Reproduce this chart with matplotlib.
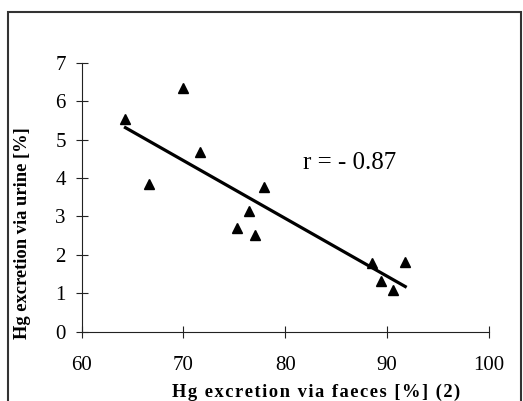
import numpy as np
import matplotlib.pyplot as plt
from matplotlib.patches import Rectangle

plt.rcParams["font.family"] = ["Liberation Serif", "DejaVu Serif"]

# data
faeces = [64.3, 70.0, 71.6, 66.6, 77.9, 76.4, 75.3, 77.0, 88.5, 91.8, 89.4, 90.6]
urine = [5.53, 6.33, 4.68, 3.84, 3.76, 3.14, 2.69, 2.51, 1.78, 1.81, 1.33, 1.09]
r_label = "r = - 0.87"
x_label = "Hg excretion via faeces [%] (2)"
y_label = "Hg excretion via urine [%]"

x_ticks = [60, 70, 80, 90, 100]
y_ticks = [0, 1, 2, 3, 4, 5, 6, 7]

fig = plt.figure(figsize=(5.23, 4.01), dpi=100)
ax = fig.add_axes([0.1562, 0.1728, 0.7782, 0.6708])

# outer chart frame (bottom runs off the image)
fig.patches.append(Rectangle((0.0145, -0.1), 0.981, 1.07, transform=fig.transFigure,
                             fill=False, edgecolor="#333333", linewidth=1.5))

ax.plot(faeces, urine, linestyle="none", marker="^", markersize=7.5,
        color="black")

# linear trend line
slope, intercept = np.polyfit(faeces, urine, 1)
xs = np.array([min(faeces), max(faeces)])
ax.plot(xs, slope * xs + intercept, color="black", linewidth=2.3)

ax.text(81.75, 4.39, r_label, fontsize=18, va="center", ha="left")

ax.set_xlim(60, 100)
ax.set_ylim(0, 7)
ax.set_xticks(x_ticks)
ax.set_yticks(y_ticks)
ax.tick_params(direction="inout", length=9, width=0.8, labelsize=15, pad=7,
               colors="#222222", labelcolor="black")
ax.tick_params(axis="x", pad=13)
for side in ["top", "right"]:
    ax.spines[side].set_visible(False)
for side in ["left", "bottom"]:
    ax.spines[side].set_linewidth(0.8)
    ax.spines[side].set_color("#222222")

# x label is letter spaced in the original (hair spaces)
ax.set_xlabel("\u200a".join(x_label), fontsize=13.3, fontweight="bold", va="center")
ax.xaxis.set_label_coords(0.576, -0.224)
ax.set_ylabel(y_label, fontsize=13.3, fontweight="bold", va="center")
ax.yaxis.set_label_coords(-0.145, 0.365)

fig.savefig("out.png", dpi=100)
